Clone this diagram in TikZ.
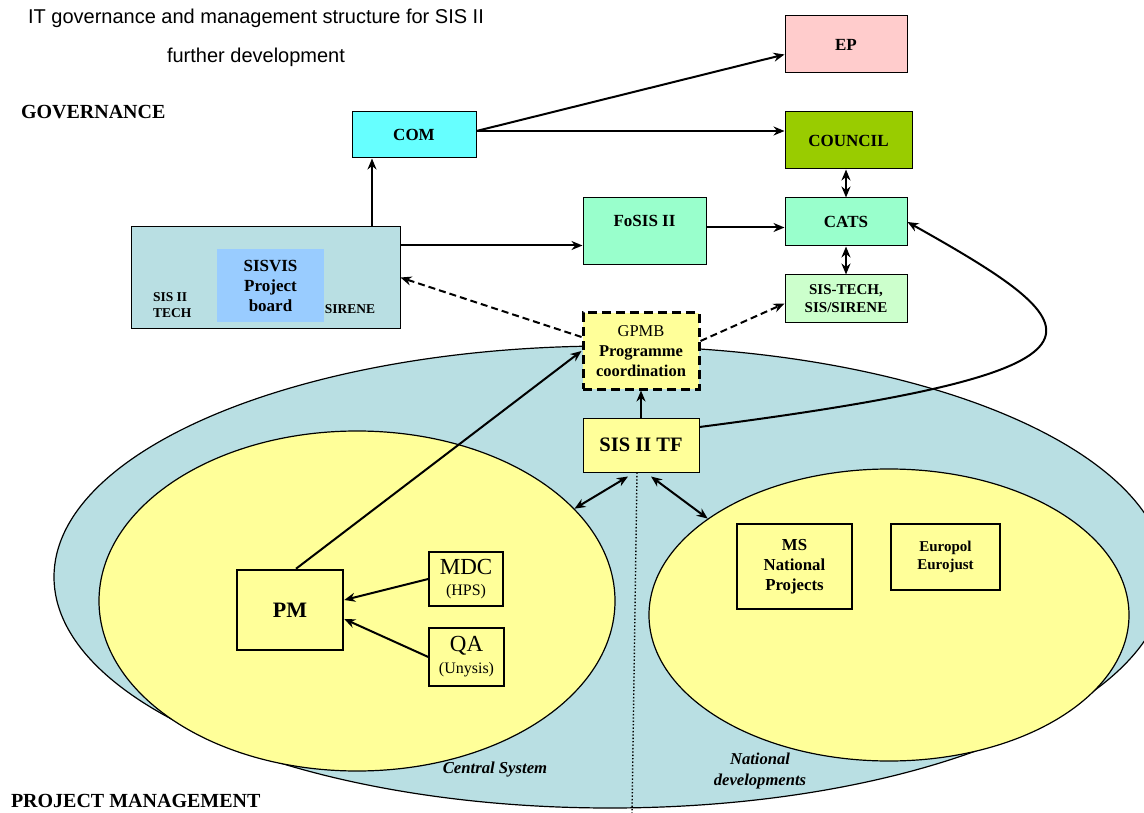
\documentclass[tikz,border=0pt]{standalone}
\usepackage{fontspec}
\setmainfont{Liberation Serif}
\newfontfamily\titlefont{Liberation Sans}
\usepackage{tikz}
\usetikzlibrary{arrows.meta,shapes.geometric}
\usepackage{xcolor}
\definecolor{pmbg}{RGB}{185,223,227}
\definecolor{pmyellow}{RGB}{255,255,153}
\definecolor{boardblue}{RGB}{153,204,255}
\definecolor{comcyan}{RGB}{102,255,255}
\definecolor{councilgreen}{RGB}{153,204,0}
\definecolor{catsgreen}{RGB}{153,255,204}
\definecolor{techgreen}{RGB}{204,255,204}
\definecolor{eppink}{RGB}{255,204,204}
\begin{document}
\begin{tikzpicture}[x=1pt,y=-1pt,>={Stealth[length=11pt,width=9pt]},line width=2pt]
\tikzstyle{box}=[draw,line width=1pt,font=\fontsize{17}{20}\selectfont\bfseries,align=center,inner sep=0pt]
\tikzstyle{blob}=[ellipse,draw,line width=1.2pt,inner sep=0pt]
\tikzstyle{lbl}=[inner sep=0pt,font=\fontsize{20}{22}\selectfont\bfseries]
\tikzstyle{ttl}=[inner sep=0pt,font=\titlefont\fontsize{20}{22}\selectfont]
\tikzstyle{small}=[inner sep=0pt,font=\fontsize{13.5}{16}\selectfont\bfseries]
  \useasboundingbox(0,0)rectangle(1144,813);
  \clip(0,0)rectangle(1144,813);
  \node(title1)at(256,18)[ttl]{IT governance and management structure for SIS II};
  \node(title2)at(256,57)[ttl]{further development};
  \node(govlbl)at(20,112)[lbl,anchor=west]{GOVERNANCE};
  \node(pmlbl)at(10,801)[lbl,anchor=west]{PROJECT MANAGEMENT};
  \node(pmarea)at(610,577)[blob,fill=pmbg,minimum width=1112pt,minimum height=462pt]{};
  \node(central)at(357,601)[blob,fill=pmyellow,minimum width=516pt,minimum height=340pt]{};
  \node(national)at(889,615)[blob,fill=pmyellow,minimum width=480pt,minimum height=292pt]{};
  \node(ep)at(846,44.5)[box,fill=eppink,minimum width=122pt,minimum height=57pt]{EP};
  \node(com)at(414,135)[box,fill=comcyan,minimum width=124pt,minimum height=46pt]{COM};
  \node(council)at(848.5,140.5)[box,fill=councilgreen,minimum width=127pt,minimum height=57pt]{COUNCIL};
  \node(cats)at(846,222)[box,fill=catsgreen,minimum width=122pt,minimum height=48pt]{CATS};
  \node(sistech)at(846,298.5)[box,fill=techgreen,minimum width=122pt,minimum height=47pt,font=\fontsize{15}{18}\selectfont\bfseries]{SIS-TECH,\\SIS/SIRENE};
  \node(fosis)at(644.5,231.5)[box,fill=catsgreen,minimum width=123pt,minimum height=67pt]{\raisebox{9pt}[11pt][3pt]{FoSIS II}};
  \node(sisvis)at(265.5,277.5)[box,fill=pmbg,minimum width=269pt,minimum height=101pt]{};
  \node(board)at(270.5,285.5)[fill=boardblue,inner sep=0pt,align=center,minimum width=107pt,minimum height=73pt,font=\fontsize{17}{20}\selectfont\bfseries]{SISVIS\\Project\\board};
  \node(tech)at(152,305)[small,anchor=west,align=left]{SIS II\\TECH};
  \node(sirene)at(350,309)[small]{SIRENE};
  \node(gpmb)at(641,351)[box,fill=pmyellow,line width=3pt,dash pattern=on 9pt off 5pt,minimum width=116pt,minimum height=76pt,font=\fontsize{16.5}{20}\selectfont\bfseries]{{\mdseries GPMB}\\Programme\\coordination};
  \node(tf)at(641,445)[box,fill=pmyellow,minimum width=116pt,minimum height=54pt,font=\fontsize{20.5}{22}\selectfont\bfseries]{SIS II TF};
  \node(pm)at(290,610)[box,line width=2.5pt,minimum width=106pt,minimum height=80pt,font=\fontsize{22}{24}\selectfont\bfseries]{PM};
  \node(mdc)at(466,579)[box,line width=1.4pt,minimum width=74pt,minimum height=54pt,font=\fontsize{23}{24}\selectfont\mdseries]{MDC\\[-3pt]{\fontsize{16}{18}\selectfont(HPS)}};
  \node(qa)at(466.5,657)[box,line width=1.4pt,minimum width=75pt,minimum height=58pt,font=\fontsize{23}{24}\selectfont\mdseries]{QA\\[-2pt]{\fontsize{16}{18}\selectfont(Unysis)}};
  \node(ms)at(794.5,566.5)[box,line width=2pt,minimum width=115pt,minimum height=85pt,font=\fontsize{16.8}{20}\selectfont\bfseries]{MS\\National\\Projects};
  \node(europol)at(945.5,557)[box,line width=1.2pt,minimum width=109pt,minimum height=66pt,font=\fontsize{15}{18}\selectfont\bfseries]{Europol\\Eurojust};
  \node(cslbl)at(495,770)[inner sep=0pt,font=\fontsize{16.7}{19}\selectfont\bfseries\itshape]{Central System};
  \node(ndlbl)at(760,771)[inner sep=0pt,align=center,font=\fontsize{16.6}{21}\selectfont\bfseries\itshape]{National\\developments};
  \coordinate(comout)at([yshift=4pt]com.east);
  \coordinate(upcom)at([xshift=-42pt]com.south);
  \coordinate(tofosis)at([yshift=32pt]sisvis.east);
  \coordinate(tocats)at([yshift=4pt]fosis.east);
  \coordinate(cut)at(632,813);
  \draw[->](comout)--([yshift=-10pt]ep.west);
  \draw[->](comout)--(comout-|council.west);
  \draw[->](sisvis.north-|upcom)--(upcom);
  \draw[->](tofosis)--(tofosis-|fosis.west);
  \draw[->](tocats)--(tocats-|cats.west);
  \draw[<->](cats.north)--(council.south-|cats.north);
  \draw[<->](cats.south)--(sistech.north);
  \draw[->,dash pattern=on 7pt off 4pt](gpmb.west)++(0,-14)--(sisvis.east);
  \draw[->,dash pattern=on 7pt off 4pt]([yshift=10pt]gpmb.east)--([yshift=-5pt]sistech.west);
  \draw[->](tf.north)--(gpmb.south);
  \draw[->]([xshift=6pt]pm.north)--(gpmb.west);
  \draw[->](mdc.west)--([yshift=10pt]pm.east);
  \draw[->](qa.west)--([yshift=-9pt]pm.east);
  \draw[->](tf.east)++(0,-18).. controls (1140,370) and (1100,330) ..(cats.east);
  \draw[dotted,line width=1.4pt]([xshift=-4pt]tf.south)--(cut);
  \draw[<->]([xshift=-13pt]tf.south)++(0,4)--(central.23);
  \draw[<->]([xshift=10pt]tf.south)++(0,4)--(national.152);
\end{tikzpicture}
\end{document}
